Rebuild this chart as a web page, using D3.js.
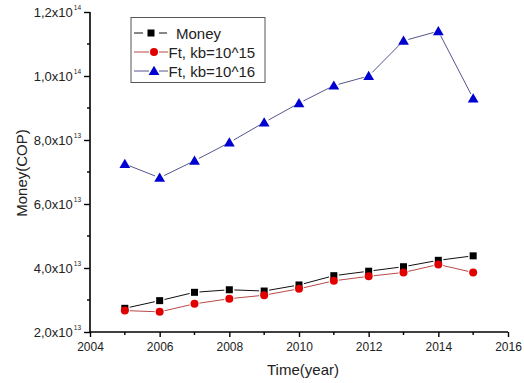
<!DOCTYPE html>
<html>
<head>
<meta charset="utf-8">
<script src="https://cdn.jsdelivr.net/npm/d3@7"></script>
<style>
  html, body { margin: 0; padding: 0; background: #fff; }
  svg { display: block; font-family: "Liberation Sans", Arial, sans-serif; }
</style>
</head>
<body>
<svg id="chart" width="524" height="383"></svg>
<script>
// Years and series values (COP)
const years = [2005, 2006, 2007, 2008, 2009, 2010, 2011, 2012, 2013, 2014, 2015];
const money = [2.74e13, 2.98e13, 3.24e13, 3.32e13, 3.28e13, 3.47e13, 3.76e13, 3.90e13, 4.04e13, 4.24e13, 4.38e13];
const ftKb15 = [2.67e13, 2.63e13, 2.88e13, 3.04e13, 3.15e13, 3.35e13, 3.60e13, 3.74e13, 3.86e13, 4.11e13, 3.86e13];
const ftKb16 = [7.25e13, 6.82e13, 7.35e13, 7.92e13, 8.55e13, 9.15e13, 9.70e13, 1.00e14, 1.11e14, 1.14e14, 9.30e13];

// Axis ticks and labels
const xTicks = [2004, 2006, 2008, 2010, 2012, 2014, 2016];
const xMinorTicks = [2005, 2007, 2009, 2011, 2013, 2015];
const yTicks = [2e13, 4e13, 6e13, 8e13, 1e14, 1.2e14];
const yTickMantissa = ["2,0x10", "4,0x10", "6,0x10", "8,0x10", "1,0x10", "1,2x10"];
const yTickExponent = ["13", "13", "13", "13", "14", "14"];
const yMinorTicks = [3e13, 5e13, 7e13, 9e13, 1.1e14];

const seriesNames = ["Money", "Ft, kb=10^15", "Ft, kb=10^16"];

const svg = d3.select("#chart");
const plotLeft = 90, plotRight = 508, plotTop = 12, plotBottom = 332;

const x = d3.scaleLinear().domain([2004, 2016]).range([plotLeft, plotRight]);
const y = d3.scaleLinear().domain([2e13, 1.2e14]).range([plotBottom, plotTop]);

const series = [
  { name: seriesNames[0], values: money, line: "#111", fill: "#000", shape: "square" },
  { name: seriesNames[1], values: ftKb15, line: "#b84848", fill: "#e00000", shape: "circle" },
  { name: seriesNames[2], values: ftKb16, line: "#55558f", fill: "#0000d0", shape: "triangle" }
];

function drawMarker(g, shape, cx, cy, fill) {
  if (shape === "square") {
    g.append("rect").attr("x", cx - 3.5).attr("y", cy - 3.5)
      .attr("width", 7).attr("height", 7).attr("fill", fill);
  } else if (shape === "circle") {
    g.append("circle").attr("cx", cx).attr("cy", cy).attr("r", 4).attr("fill", fill);
  } else {
    g.append("path")
      .attr("d", `M${cx},${cy - 5.2}L${cx + 5.4},${cy + 4}L${cx - 5.4},${cy + 4}Z`)
      .attr("fill", fill);
  }
}

// Data lines, with small gaps around each marker
const gap = 5;
series.forEach(s => {
  const g = svg.append("g");
  const pts = years.map((yr, i) => [x(yr), y(s.values[i])]);
  for (let i = 0; i < pts.length - 1; i++) {
    const [x0, y0] = pts[i], [x1, y1] = pts[i + 1];
    const len = Math.hypot(x1 - x0, y1 - y0);
    if (len <= 2 * gap) continue;
    const ux = (x1 - x0) / len, uy = (y1 - y0) / len;
    g.append("line")
      .attr("x1", x0 + ux * gap).attr("y1", y0 + uy * gap)
      .attr("x2", x1 - ux * gap).attr("y2", y1 - uy * gap)
      .attr("stroke", s.line).attr("stroke-width", 1);
  }
  pts.forEach(p => drawMarker(g, s.shape, p[0], p[1], s.fill));
});

// Bottom axis
const xAxis = d3.axisBottom(x).tickValues(xTicks).tickSize(5).tickPadding(5).tickFormat(d3.format("d"));
const gx = svg.append("g").attr("transform", `translate(0,${plotBottom})`).call(xAxis);
gx.select(".domain").attr("d", `M${plotLeft},0H${plotRight}`).attr("stroke-width", 1.6);
gx.selectAll(".tick line").attr("stroke-width", 1.4);
gx.selectAll(".tick text").attr("font-size", 12).attr("fill", "#222")
  .attr("font-family", "Liberation Sans, Arial, sans-serif");
gx.selectAll(".minor").data(xMinorTicks).enter().append("line")
  .attr("x1", d => x(d)).attr("x2", d => x(d)).attr("y1", 0).attr("y2", 3)
  .attr("stroke", "#000").attr("stroke-width", 1.4);

// Left axis
const yAxis = d3.axisLeft(y).tickValues(yTicks).tickSize(6).tickFormat(() => "");
const gy = svg.append("g").attr("transform", `translate(${plotLeft},0)`).call(yAxis);
gy.select(".domain").attr("d", `M0,${plotBottom}V${plotTop}`).attr("stroke-width", 1.6);
gy.selectAll(".tick line").attr("stroke-width", 1.4);
gy.selectAll(".minor").data(yMinorTicks).enter().append("line")
  .attr("y1", d => y(d)).attr("y2", d => y(d)).attr("x1", 0).attr("x2", -3)
  .attr("stroke", "#000").attr("stroke-width", 1.4);

// Y tick labels as mantissa x 10 with superscript exponent
yTicks.forEach((v, i) => {
  const t = svg.append("text")
    .attr("x", 81).attr("y", y(v) + 4.5)
    .attr("text-anchor", "end").attr("font-size", 13).attr("fill", "#222");
  t.append("tspan").text(yTickMantissa[i]);
  t.append("tspan").attr("font-size", 6.5).attr("dy", -6.5).attr("dx", 1).text(yTickExponent[i]);
});

// Axis titles
svg.append("text")
  .attr("x", (plotLeft + plotRight) / 2 + 4).attr("y", 375)
  .attr("text-anchor", "middle").attr("font-size", 15).attr("fill", "#222")
  .text("Time(year)");
svg.append("text")
  .attr("transform", `translate(27,173) rotate(-90)`)
  .attr("text-anchor", "middle").attr("font-size", 15).attr("fill", "#222")
  .text("Money(COP)");

// Legend
const lg = svg.append("g");
lg.append("rect").attr("x", 131).attr("y", 17.5).attr("width", 134).attr("height", 65)
  .attr("fill", "#fff").attr("stroke", "#555").attr("stroke-width", 1);
const rowY = [33, 52, 71];
series.forEach((s, i) => {
  const ry = rowY[i];
  const mx = i === 0 ? 151 : 154;
  const segs = i === 0 ? [[134, 143], [159, 167]] : [[134, 149], [159, 168]];
  segs.forEach(([a, b]) => {
    lg.append("line").attr("x1", a).attr("x2", b).attr("y1", ry).attr("y2", ry)
      .attr("stroke", s.line).attr("stroke-width", 1);
  });
  drawMarker(lg, s.shape, mx, ry, s.fill);
  lg.append("text")
    .attr("x", i === 0 ? 176 : 168.5).attr("y", ry + 5.5)
    .attr("font-size", 15).attr("fill", "#222")
    .text(s.name);
});
</script>
</body>
</html>
